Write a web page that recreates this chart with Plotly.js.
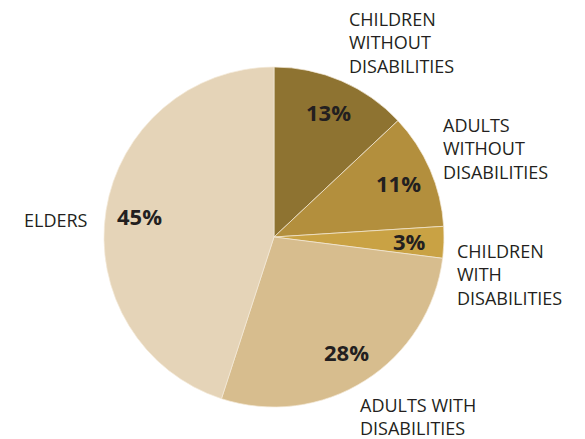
<!DOCTYPE html>
<html>
<head>
<meta charset="utf-8">
<script src="https://cdn.plot.ly/plotly-3.0.1.min.js"></script>
<style>html,body{margin:0;padding:0;background:#fff;}#chart{width:585px;height:439px;}</style>
</head>
<body>
<div id="chart"></div>
<script>
// Data
var categories = ["CHILDREN WITHOUT DISABILITIES", "ADULTS WITHOUT DISABILITIES", "CHILDREN WITH DISABILITIES", "ADULTS WITH DISABILITIES", "ELDERS"];
var nameLabels = ["CHILDREN<br>WITHOUT<br>DISABILITIES", "ADULTS<br>WITHOUT<br>DISABILITIES", "CHILDREN<br>WITH<br>DISABILITIES", "ADULTS WITH<br>DISABILITIES", "ELDERS"];
var shares = [13, 11, 3, 28, 45];
var colors = ["#8e7331", "#b38f3d", "#c9a244", "#d7bd8e", "#e5d4b8"];

// Layout geometry
var W = 585, H = 439;
var cx = 274, cy = 237, R = 170;
var dom = {x: [(cx - R) / W, (cx + R) / W], y: [1 - (cy + R) / H, 1 - (cy - R) / H]};

// Name label placement (pixel left edge, block center)
var namePos = [[347, 42], [441, 148], [455, 274], [358, 416], [22, 220]];

var annotations = [];
var total = shares.reduce(function(a, b){ return a + b; }, 0);
var cum = 0;
shares.forEach(function(v, i){
  var mid = (cum + v / 2) / total * 2 * Math.PI;
  cum += v;
  var px = cx + 0.8 * R * Math.sin(mid);
  var py = cy - 0.8 * R * Math.cos(mid);
  annotations.push({
    x: px / W, y: 1 - py / H, xref: 'paper', yref: 'paper',
    text: '<b>' + v + '%</b>', showarrow: false,
    xanchor: 'center', yanchor: 'middle',
    font: {family: 'Open Sans', size: 22, color: '#231f20'}
  });
  annotations.push({
    x: namePos[i][0] / W, y: 1 - namePos[i][1] / H, xref: 'paper', yref: 'paper',
    text: nameLabels[i], showarrow: false, align: 'left',
    xanchor: 'left', yanchor: 'middle',
    font: {family: 'Open Sans', size: 18, color: '#231f20'}
  });
});

var trace = {
  type: 'pie',
  labels: categories,
  values: shares,
  sort: false,
  direction: 'clockwise',
  rotation: 0,
  textinfo: 'none',
  hoverinfo: 'label+percent',
  marker: {colors: colors, line: {color: '#f3ead9', width: 0.7}},
  domain: dom,
  showlegend: false
};

var layout = {
  width: W, height: H,
  margin: {l: 0, r: 0, t: 0, b: 0},
  paper_bgcolor: '#ffffff',
  showlegend: false,
  annotations: annotations
};

Plotly.newPlot('chart', [trace], layout, {displayModeBar: false, staticPlot: true});
</script>
</body>
</html>
